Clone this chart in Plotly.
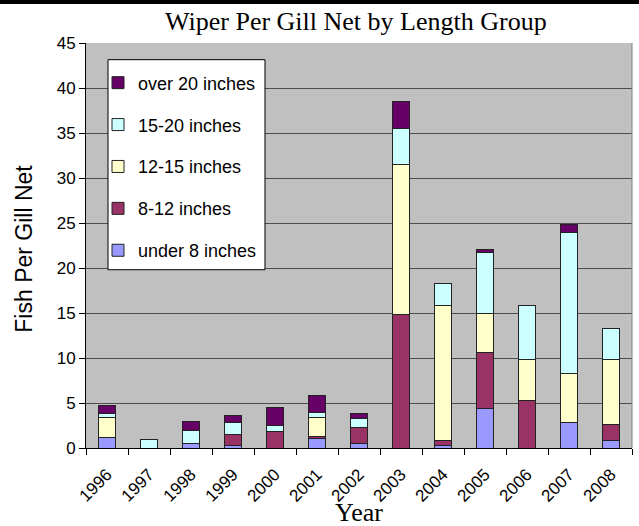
import plotly.graph_objects as go

YEARS = ["1996", "1997", "1998", "1999", "2000", "2001", "2002",
         "2003", "2004", "2005", "2006", "2007", "2008"]
UNDER_8 = [1.2, 0, 0.5, 0.3, 0, 1.05, 0.55, 0, 0.3, 4.4, 0, 2.85, 0.8]
FROM_8_TO_12 = [0, 0, 0, 1.2, 1.8, 0.25, 1.7, 14.8, 0.5, 6.2, 5.3, 0, 1.8]
FROM_12_TO_15 = [2.2, 0, 0, 0, 0, 2.05, 0, 16.7, 15.0, 4.35, 4.55, 5.45, 7.2]
FROM_15_TO_20 = [0.45, 1.0, 1.45, 1.3, 0.7, 0.65, 1.05, 3.95, 2.45, 6.75, 5.95, 15.7, 3.45]
OVER_20 = [0.85, 0, 1.05, 0.8, 2.0, 1.8, 0.5, 3.1, 0, 0.4, 0, 0.85, 0]

SERIES = [
    ("under 8 inches", UNDER_8, "#9999FF"),
    ("8-12 inches", FROM_8_TO_12, "#993366"),
    ("12-15 inches", FROM_12_TO_15, "#FFFFCC"),
    ("15-20 inches", FROM_15_TO_20, "#CCFFFF"),
    ("over 20 inches", OVER_20, "#660066"),
]

SANS = "Liberation Sans, Arial, sans-serif"
SERIF = "Liberation Serif, Times New Roman, serif"

fig = go.Figure()
for rank, (name, values, color) in enumerate(SERIES):
    fig.add_trace(go.Bar(
        x=YEARS,
        y=values,
        name=name,
        legendgroup=name,
        legendrank=len(SERIES) - rank,
        marker={"color": color, "line": {"color": "#222222", "width": 1}},
    ))

fig.update_layout(
    barmode="stack",
    bargap=0.6,
    width=639,
    height=526,
    autosize=False,
    paper_bgcolor="white",
    plot_bgcolor="#C0C0C0",
    margin={"l": 86, "r": 7, "t": 43, "b": 78},
    font={"family": SANS, "color": "black", "size": 17},
    legend={
        "traceorder": "grouped",
        "tracegroupgap": 15.5,
        "x": 0.022, "y": 0.947,
        "xanchor": "left", "yanchor": "top",
        "bgcolor": "rgba(0,0,0,0)",
        "borderwidth": 0,
        "font": {"family": SANS, "size": 18},
    },
    showlegend=True,
    shapes=[
        # black band across the top of the picture
        {"type": "rect", "xref": "paper", "yref": "paper",
         "x0": -0.2, "x1": 1.2, "y0": 1.0963, "y1": 1.12,
         "fillcolor": "black", "line": {"width": 0}},
        # right edge of plot area
        {"type": "line", "xref": "paper", "yref": "paper",
         "x0": 1, "x1": 1, "y0": 0, "y1": 1,
         "line": {"color": "#808080", "width": 1}},
        # legend box
        {"type": "rect", "xref": "paper", "yref": "paper", "layer": "above",
         "x0": 0.0403, "x1": 0.3278, "y0": 0.4402, "y1": 0.9588,
         "fillcolor": "white", "line": {"color": "black", "width": 1}},
    ],
    annotations=[
        {"text": "Wiper Per Gill Net by Length Group", "showarrow": False,
         "xref": "paper", "yref": "paper", "x": 0.4945, "y": 1.0526,
         "xanchor": "center", "yanchor": "middle",
         "font": {"family": SERIF, "size": 26, "color": "black"}},
        {"text": "Year", "showarrow": False,
         "xref": "paper", "yref": "paper", "x": 0.5, "y": -0.16,
         "xanchor": "center", "yanchor": "middle",
         "font": {"family": SERIF, "size": 26, "color": "black"}},
        {"text": "Fish Per Gill Net", "showarrow": False, "textangle": -90,
         "xref": "paper", "yref": "paper", "x": -0.1136, "y": 0.492,
         "xanchor": "center", "yanchor": "middle",
         "font": {"family": SANS, "size": 23, "color": "black"}},
    ],
)

fig.update_xaxes(
    type="category",
    automargin=False,
    tickangle=-45,
    tickfont={"family": SANS, "size": 17},
    ticks="outside",
    tickson="boundaries",
    ticklen=6,
    ticklabelstandoff=9,
    tickcolor="black",
    showline=True,
    linecolor="black",
    linewidth=1,
)
fig.update_yaxes(
    automargin=False,
    range=[0, 45],
    dtick=5,
    tickfont={"family": SANS, "size": 17},
    ticks="outside",
    ticklen=6,
    tickcolor="black",
    showline=True,
    linecolor="black",
    linewidth=1,
    showgrid=True,
    gridcolor="#4d4d4d",
    gridwidth=1,
    zeroline=False,
)

# drop the page's default body margin so the figure sits at the window corner
fig.write_html(
    "out.html",
    config={"displayModeBar": False, "responsive": False},
    post_script="document.body.style.margin = '0'; document.body.style.overflow = 'hidden';",
)
